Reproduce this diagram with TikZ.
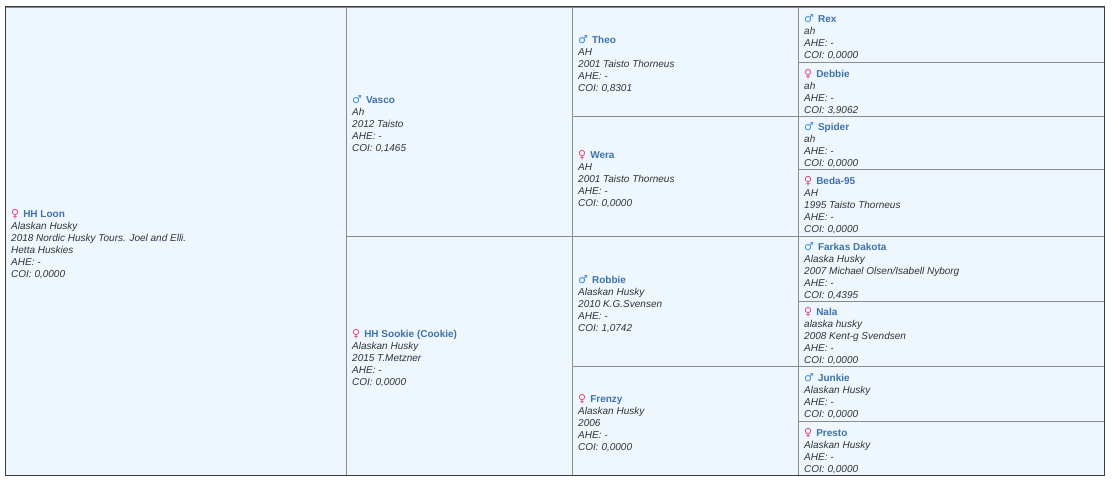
\documentclass[tikz,border=0pt]{standalone}
\usepackage{fontspec}
\setmainfont{Liberation Sans}
\newfontfamily\symfont{DejaVu Sans}
\definecolor{cellbg}{HTML}{EEF6FE}
\definecolor{linegray}{HTML}{8C8C8C}
\definecolor{outerline}{HTML}{3A3A3A}
\definecolor{textgray}{HTML}{333333}
\definecolor{namec}{HTML}{3F72A8}
\definecolor{malec}{HTML}{3E8ED6}
\definecolor{femc}{HTML}{E2457D}
\newcommand\msym{{\symfont\bfseries\upshape\color{malec}\fontsize{11}{12}\selectfont ♂}}
\newcommand\fsym{{\symfont\bfseries\upshape\color{femc}\fontsize{11}{12}\selectfont ♀}}
\newcommand\dname[1]{\hspace{4pt}{\bfseries\upshape\color{namec}#1}}
\tikzset{
  cell/.style={draw=linegray, fill=cellbg, line width=0.8pt, inner sep=0pt, outer sep=0pt, anchor=north west},
  txt/.style={anchor=west, align=left, inner sep=0pt, text=textgray, font=\fontsize{10}{12}\selectfont\itshape},
  outerframe/.style={draw=outerline, line width=1pt}
}
\begin{document}
\begin{tikzpicture}[x=1pt,y=-1pt]
\useasboundingbox (0,0) rectangle (1118,487);
% column 1
\node[cell, minimum width=341pt, minimum height=468pt] (c1) at (5,7) {};
% column 2
\node[cell, minimum width=226pt, minimum height=229pt] (c2a) at (346,7) {};
\node[cell, minimum width=226pt, minimum height=239pt] (c2b) at (346,236) {};
% column 3
\node[cell, minimum width=226pt, minimum height=109pt] (c3a) at (572,7) {};
\node[cell, minimum width=226pt, minimum height=120pt] (c3b) at (572,116) {};
\node[cell, minimum width=226pt, minimum height=130pt] (c3c) at (572,236) {};
\node[cell, minimum width=226pt, minimum height=109pt] (c3d) at (572,366) {};
% column 4
\node[cell, minimum width=306pt, minimum height=55pt] (c4a) at (798,7) {};
\node[cell, minimum width=306pt, minimum height=54pt] (c4b) at (798,62) {};
\node[cell, minimum width=306pt, minimum height=53pt] (c4c) at (798,116) {};
\node[cell, minimum width=306pt, minimum height=67pt] (c4d) at (798,169) {};
\node[cell, minimum width=306pt, minimum height=65pt] (c4e) at (798,236) {};
\node[cell, minimum width=306pt, minimum height=65pt] (c4f) at (798,301) {};
\node[cell, minimum width=306pt, minimum height=55pt] (c4g) at (798,366) {};
\node[cell, minimum width=306pt, minimum height=54pt] (c4h) at (798,421) {};
% outer frame
\draw[outerframe] (c1.north west) rectangle (c4h.south east);
% texts
\node[txt] (t1) at ([xshift=6pt,yshift=-3pt]c1.west) {\fsym\dname{HH Loon}\\Alaskan Husky\\2018 Nordic Husky Tours. Joel and Elli.\\Hetta Huskies\\AHE: -\\COI: 0,0000};
\node[txt] (t2a) at ([xshift=6pt,yshift=-3pt]c2a.west) {\msym\dname{Vasco}\\Ah\\2012 Taisto\\AHE: -\\COI: 0,1465};
\node[txt] (t2b) at ([xshift=6pt,yshift=-3pt]c2b.west) {\fsym\dname{HH Sookie (Cookie)}\\Alaskan Husky\\2015 T.Metzner\\AHE: -\\COI: 0,0000};
\node[txt] (t3a) at ([xshift=6pt,yshift=-3pt]c3a.west) {\msym\dname{Theo}\\AH\\2001 Taisto Thorneus\\AHE: -\\COI: 0,8301};
\node[txt] (t3b) at ([xshift=6pt,yshift=-3pt]c3b.west) {\fsym\dname{Wera}\\AH\\2001 Taisto Thorneus\\AHE: -\\COI: 0,0000};
\node[txt] (t3c) at ([xshift=6pt,yshift=-3pt]c3c.west) {\msym\dname{Robbie}\\Alaskan Husky\\2010 K.G.Svensen\\AHE: -\\COI: 1,0742};
\node[txt] (t3d) at ([xshift=6pt,yshift=-3pt]c3d.west) {\fsym\dname{Frenzy}\\Alaskan Husky\\2006\\AHE: -\\COI: 0,0000};
\node[txt] (t4a) at ([xshift=6pt,yshift=-3pt]c4a.west) {\msym\dname{Rex}\\ah\\AHE: -\\COI: 0,0000};
\node[txt] (t4b) at ([xshift=6pt,yshift=-3pt]c4b.west) {\fsym\dname{Debbie}\\ah\\AHE: -\\COI: 3,9062};
\node[txt] (t4c) at ([xshift=6pt,yshift=-3pt]c4c.west) {\msym\dname{Spider}\\ah\\AHE: -\\COI: 0,0000};
\node[txt] (t4d) at ([xshift=6pt,yshift=-3pt]c4d.west) {\fsym\dname{Beda-95}\\AH\\1995 Taisto Thorneus\\AHE: -\\COI: 0,0000};
\node[txt] (t4e) at ([xshift=6pt,yshift=-3pt]c4e.west) {\msym\dname{Farkas Dakota}\\Alaska Husky\\2007 Michael Olsen/Isabell Nyborg\\AHE: -\\COI: 0,4395};
\node[txt] (t4f) at ([xshift=6pt,yshift=-3pt]c4f.west) {\fsym\dname{Nala}\\alaska husky\\2008 Kent-g Svendsen\\AHE: -\\COI: 0,0000};
\node[txt] (t4g) at ([xshift=6pt,yshift=-3pt]c4g.west) {\msym\dname{Junkie}\\Alaskan Husky\\AHE: -\\COI: 0,0000};
\node[txt] (t4h) at ([xshift=6pt,yshift=-3pt]c4h.west) {\fsym\dname{Presto}\\Alaskan Husky\\AHE: -\\COI: 0,0000};
\end{tikzpicture}
\end{document}
